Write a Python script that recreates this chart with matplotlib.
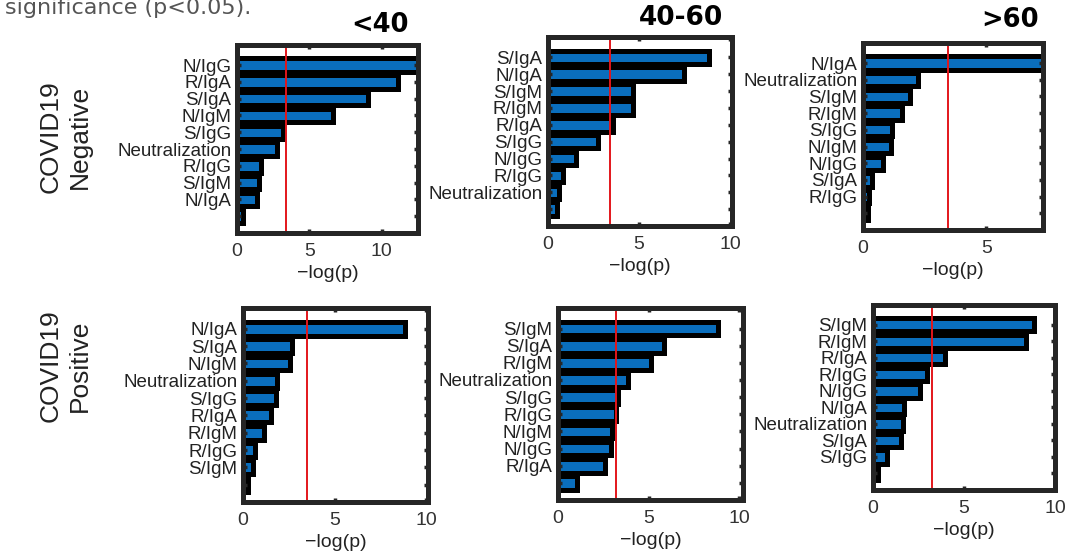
import matplotlib
matplotlib.use('Agg')
import matplotlib.pyplot as plt

plt.rcParams['font.family'] = ['Liberation Sans', 'DejaVu Sans']

W, H = 1083, 559

# Data: -log(p) per feature, top to bottom (last bar has no label in the source)
neg_lt40_labels = ['N/IgG', 'R/IgA', 'S/IgA', 'N/IgM', 'S/IgG', 'Neutralization', 'R/IgG', 'S/IgM', 'N/IgA', '']
neg_lt40_vals = [12.5, 11.15, 9.05, 6.65, 3.15, 2.75, 1.65, 1.55, 1.4, 0.4]

neg_40_60_labels = ['S/IgA', 'N/IgA', 'S/IgM', 'R/IgM', 'R/IgA', 'S/IgG', 'N/IgG', 'R/IgG', 'Neutralization', '']
neg_40_60_vals = [8.85, 7.45, 4.65, 4.65, 3.55, 2.75, 1.55, 0.8, 0.6, 0.5]

neg_gt60_labels = ['N/IgA', 'Neutralization', 'S/IgM', 'R/IgM', 'S/IgG', 'N/IgM', 'N/IgG', 'S/IgA', 'R/IgG', '']
neg_gt60_vals = [7.3, 2.25, 1.9, 1.6, 1.17, 1.13, 0.8, 0.38, 0.25, 0.2]

pos_lt40_labels = ['N/IgA', 'S/IgA', 'N/IgM', 'Neutralization', 'S/IgG', 'R/IgA', 'R/IgM', 'R/IgG', 'S/IgM', '']
pos_lt40_vals = [8.85, 2.7, 2.55, 1.85, 1.8, 1.52, 1.15, 0.65, 0.53, 0.3]

pos_40_60_labels = ['S/IgM', 'S/IgA', 'R/IgM', 'Neutralization', 'S/IgG', 'R/IgG', 'N/IgM', 'N/IgG', 'R/IgA', '']
pos_40_60_vals = [8.82, 5.85, 5.1, 3.85, 3.3, 3.2, 2.95, 2.9, 2.6, 1.05]

pos_gt60_labels = ['S/IgM', 'R/IgM', 'R/IgA', 'R/IgG', 'N/IgG', 'N/IgA', 'Neutralization', 'S/IgA', 'S/IgG', '']
pos_gt60_vals = [8.85, 8.42, 3.95, 2.95, 2.6, 1.7, 1.65, 1.55, 0.77, 0.3]

thresholds = [3.4, 3.43, 3.43, 3.5, 3.2, 3.24]
xmax = [12.5, 10.1, 7.3, 10.1, 10.2, 10.0]
age_groups = ['<40', '40-60', '>60']

panels = [
    (neg_lt40_labels, neg_lt40_vals, (237, 418, 45, 233)),
    (neg_40_60_labels, neg_40_60_vals, (548, 732, 37, 226)),
    (neg_gt60_labels, neg_gt60_vals, (863, 1043, 43, 230)),
    (pos_lt40_labels, pos_lt40_vals, (243, 428, 308, 502)),
    (pos_40_60_labels, pos_40_60_vals, (558, 743, 308, 500)),
    (pos_gt60_labels, pos_gt60_vals, (873, 1055, 305, 490)),
]

fig = plt.figure(figsize=(W / 100, H / 100), dpi=100)

for i, (labels, vals, (x0, x1, y0, y1)) in enumerate(panels):
    ax = fig.add_axes([x0 / W, 1 - y1 / H, (x1 - x0) / W, (y1 - y0) / H])
    pos = list(range(len(vals)))
    # thick black edge around a blue core, like the MATLAB export
    ax.barh(pos, vals, height=0.8, color='#0a6ebd', edgecolor='black', linewidth=3.6)
    ax.axvline(thresholds[i], color='#e3161b', lw=1.4)
    ax.set_xlim(0, xmax[i])
    ax.set_ylim(10.0, -1.2)
    ax.set_yticks(pos)
    ax.set_yticklabels(labels, fontsize=13.5, color='#222222')
    ax.set_xticks([0, 5, 10] if xmax[i] >= 10 else [0, 5])
    ax.tick_params(axis='x', labelsize=14, labelcolor='#333333', pad=7)
    ax.tick_params(direction='in', top=True, right=True, length=3, width=2.5,
                   color='#262626')
    ax.tick_params(axis='y', pad=4)
    for s in ax.spines.values():
        s.set_linewidth(3.6)
        s.set_color('#262626')
    ax.set_xlabel('\u2212log(p)', fontsize=14, color='#222222', labelpad=4)

# column titles
fig.text(380 / W, 1 - 25 / H, age_groups[0], ha='center', va='center',
         fontsize=18.5, fontweight='bold', family='DejaVu Sans')
fig.text(681 / W, 1 - 18 / H, age_groups[1], ha='center', va='center',
         fontsize=19, fontweight='bold', family='DejaVu Sans')
fig.text(1010 / W, 1 - 20 / H, age_groups[2], ha='center', va='center',
         fontsize=18.5, fontweight='bold', family='DejaVu Sans')

# row labels
fig.text(65 / W, 1 - 137 / H, 'COVID19\nNegative', rotation=90, ha='center',
         va='center', fontsize=19, color='#222222', linespacing=1.3)
fig.text(65 / W, 1 - 366 / H, 'COVID19\nPositive', rotation=90, ha='center',
         va='center', fontsize=19, color='#222222', linespacing=1.3)

# caption remnant at the top (cut off in the source as well)
fig.text(5 / W, 1 - 14 / H, 'significance (p<0.05).', ha='left', va='baseline',
         fontsize=16, color='#555555', family='DejaVu Sans')

fig.savefig('out.png', dpi=100)
